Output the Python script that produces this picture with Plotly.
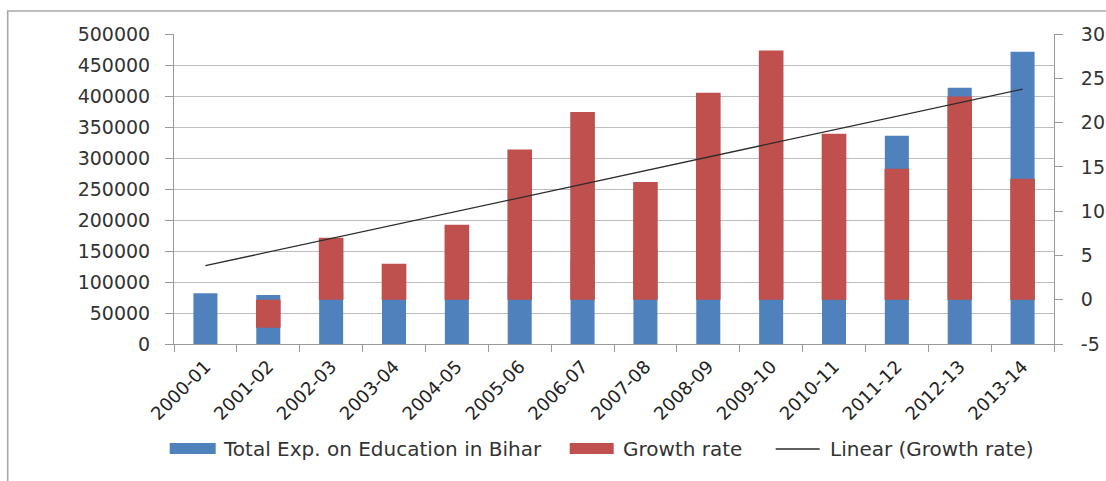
import numpy as np
import plotly.graph_objects as go

# ---------------- data ----------------
years = ["2000-01", "2001-02", "2002-03", "2003-04", "2004-05", "2005-06", "2006-07",
         "2007-08", "2008-09", "2009-10", "2010-11", "2011-12", "2012-13", "2013-14"]
total_exp = [81800, 79200, 84800, 88200, 95700, 111900, 135600,
             153600, 189500, 242800, 291000, 336000, 413400, 471500]
growth_rate = [None, -3.16, 7.0, 4.06, 8.47, 16.97, 21.18,
               13.28, 23.37, 28.15, 18.74, 14.79, 22.95, 13.66]
left_ticks = [0, 50000, 100000, 150000, 200000, 250000, 300000, 350000, 400000, 450000, 500000]
right_ticks = [-5, 0, 5, 10, 15, 20, 25, 30]
legend_names = ["Total Exp. on Education in Bihar", "Growth rate", "Linear (Growth rate)"]

# ---------------- linear trend (Excel-style, blank first point ignored) --------------
idx = np.arange(1, len(years) + 1)
mask = np.array([g is not None for g in growth_rate])
gvals = np.array([g if g is not None else np.nan for g in growth_rate], dtype=float)
slope, intercept = np.polyfit(idx[mask], gvals[mask], 1)
trend = slope * idx + intercept

# ---------------- geometry ----------------
W, H = 1106, 481
L, R, T, B = 174.3, 1054.3, 34, 344
PW, PH = R - L, B - T


def px(x):
    return (x - L) / PW


def py(y):
    return (B - y) / PH


BLUE = "#4F81BD"
RED = "#C0504D"
TXT = "#333333"
FONT = "DejaVu Sans"

fig = go.Figure()
fig.add_trace(go.Bar(x=years, y=total_exp, name=legend_names[0], marker_color=BLUE,
                     marker_line_width=0, width=0.382, yaxis="y", showlegend=False))
fig.add_trace(go.Bar(x=years, y=growth_rate, name=legend_names[1], marker_color=RED,
                     marker_line_width=0, width=0.392, yaxis="y2", showlegend=False))
fig.add_trace(go.Scatter(x=years, y=trend, name=legend_names[2], mode="lines",
                         line=dict(color="#2b2b2b", width=1.3), yaxis="y2", showlegend=False))

fig.update_layout(
    width=W, height=H,
    margin=dict(l=L, r=W - R, t=T, b=H - B, pad=0, autoexpand=False),
    paper_bgcolor="white", plot_bgcolor="white",
    barmode="overlay",
    font=dict(family=FONT, size=18, color=TXT),
    xaxis=dict(type="category", showline=True, linecolor="#9a9a9a", linewidth=1,
               ticks="outside", ticklen=7, tickcolor="#9a9a9a", tickson="boundaries",
               tickangle=-45, showgrid=False, ticklabelstandoff=4, automargin=False,
               tickfont=dict(size=18, color="#222222")),
    yaxis=dict(range=[0, 500000], tickvals=left_ticks, ticktext=[str(v) for v in left_ticks],
               showline=True, linecolor="#9a9a9a", linewidth=1, automargin=False,
               ticks="outside", ticklen=8, tickcolor="#9a9a9a", ticklabelstandoff=11,
               showgrid=True, gridcolor="#bdbdbd", gridwidth=1, zeroline=False,
               tickfont=dict(size=19, color=TXT)),
    yaxis2=dict(range=[-5, 30], tickvals=right_ticks, ticktext=[str(v) for v in right_ticks],
                overlaying="y", side="right", showline=True, linecolor="#9a9a9a", linewidth=1,
                ticks="outside", ticklen=8, tickcolor="#9a9a9a", ticklabelstandoff=14,
                automargin=False,
                showgrid=False, zeroline=False, tickfont=dict(size=19, color=TXT)),
)

shapes = []
annotations = []

# outer chart border (only left and top visible)
shapes.append(dict(type="rect", xref="paper", yref="paper",
                   x0=px(8), x1=px(1300), y0=py(11), y1=py(700),
                   line=dict(color="#a8a8a8", width=1.6), fillcolor="rgba(0,0,0,0)", layer="below"))

# custom legend
leg_y = 449
shapes.append(dict(type="rect", xref="paper", yref="paper", x0=px(170), x1=px(216),
                   y0=py(454), y1=py(443), fillcolor=BLUE, line=dict(width=0)))
shapes.append(dict(type="rect", xref="paper", yref="paper", x0=px(570), x1=px(614),
                   y0=py(454), y1=py(443), fillcolor=RED, line=dict(width=0)))
shapes.append(dict(type="line", xref="paper", yref="paper", x0=px(776), x1=px(820),
                   y0=py(leg_y), y1=py(leg_y), line=dict(color="#2b2b2b", width=1.3)))
for xpos, name in zip([221, 621, 828], legend_names):
    annotations.append(dict(text=name, xref="paper", yref="paper", x=px(xpos), y=py(leg_y),
                            xanchor="left", yanchor="middle", showarrow=False,
                            font=dict(family=FONT, size=20, color=TXT)))

fig.update_layout(shapes=shapes, annotations=annotations)
fig.write_html("out.html")
